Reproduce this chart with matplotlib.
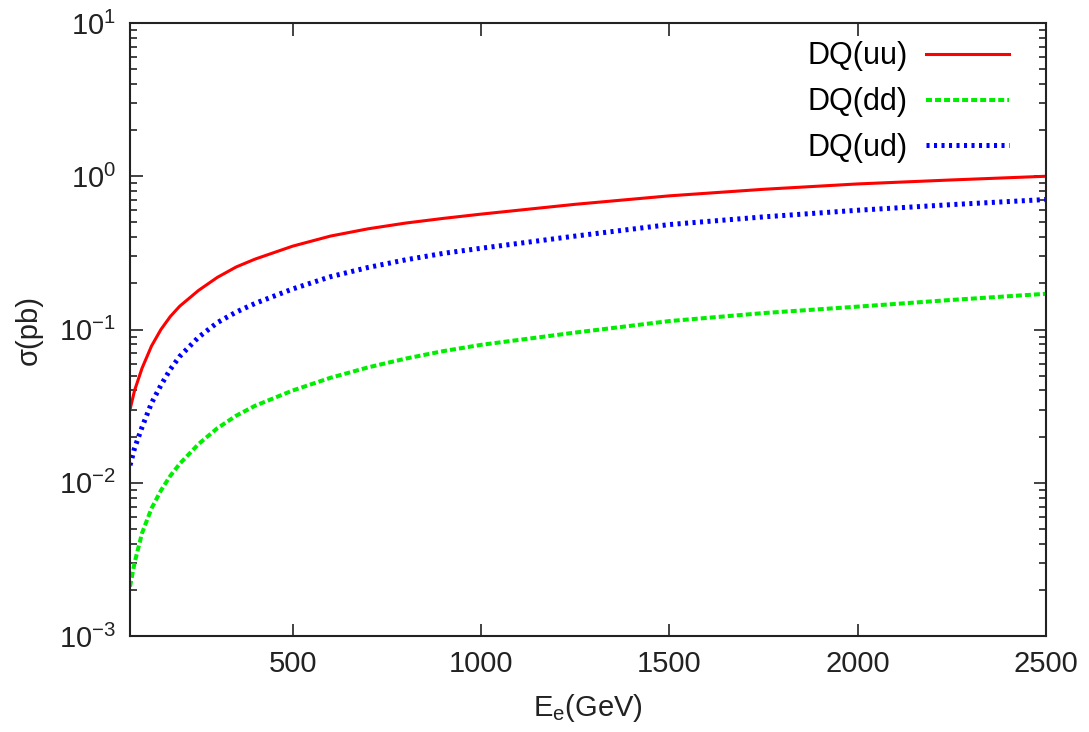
import math
import matplotlib
matplotlib.use("Agg")
import matplotlib.pyplot as plt
from matplotlib.ticker import FuncFormatter

plt.rcParams["font.family"] = ["Liberation Sans", "DejaVu Sans"]
plt.rcParams["mathtext.fontset"] = "custom"
plt.rcParams["mathtext.rm"] = "Liberation Sans"
plt.rcParams["mathtext.it"] = "Liberation Sans"
plt.rcParams["lines.scale_dashes"] = False

energy = [68, 80, 100, 125, 150, 175, 200, 250, 300, 350, 400, 500, 600, 700, 800,
          900, 1000, 1250, 1500, 1750, 2000, 2250, 2500]
sigma_uu = [0.030, 0.040, 0.056, 0.078, 0.100, 0.1216, 0.142, 0.180, 0.219, 0.256,
            0.288, 0.350, 0.407, 0.454, 0.495, 0.531, 0.566, 0.656, 0.745, 0.822,
            0.891, 0.946, 1.000]
sigma_dd = [0.0021, 0.0030, 0.0047, 0.0068, 0.0089, 0.0111, 0.0133, 0.0179, 0.0227,
            0.0274, 0.0318, 0.0400, 0.0484, 0.0566, 0.0646, 0.0723, 0.0794, 0.0955,
            0.1135, 0.1280, 0.1410, 0.1560, 0.1710]
sigma_ud = [0.0130, 0.0168, 0.0231, 0.0331, 0.0433, 0.0550, 0.0668, 0.0891, 0.111,
            0.130, 0.148, 0.184, 0.221, 0.254, 0.285, 0.314, 0.339, 0.407, 0.484,
            0.543, 0.600, 0.653, 0.705]


def log_label(v, pos):
    exp = int(round(math.log10(v)))
    return r"10$^{\mathregular{%s}}$" % ("-%d" % -exp if exp < 0 else "%d" % exp)


fig = plt.figure(figsize=(10.89, 7.32), dpi=100)
ax = fig.add_axes([0.1194, 0.1311, 0.8411, 0.8375])

ax.plot(energy, sigma_uu, color="#ff0000", lw=2.2, label="DQ(uu)")
ax.plot(energy, sigma_dd, color="#00ee00", lw=2.9, dashes=(4.3, 2.2),
        dash_capstyle="butt", label="DQ(dd)")
ax.plot(energy, sigma_ud, color="#0000ff", lw=3.6, dashes=(2.2, 3.2),
        dash_capstyle="butt", label="DQ(ud)")

ax.set_yscale("log")
ax.set_xlim(68, 2500)
ax.set_ylim(1e-3, 1e1)
ax.set_xticks([500, 1000, 1500, 2000, 2500])
ax.yaxis.set_major_formatter(FuncFormatter(log_label))

ax.tick_params(which="both", direction="in", top=True, right=True,
               labelsize=21, colors="#222222", pad=10)
ax.tick_params(which="major", length=9, width=1.2)
ax.tick_params(which="minor", length=5, width=1.2)
for s in ax.spines.values():
    s.set_linewidth(1.5)
    s.set_color("#222222")

ax.set_xlabel(r"E$_\mathregular{e}$(GeV)", fontsize=21, color="#222222", labelpad=10)
ax.set_ylabel("σ(pb)", fontsize=21, color="#222222", labelpad=12)

ax.legend(loc="upper right", frameon=False, markerfirst=False, fontsize=22,
          handlelength=2.72, handletextpad=0.6, labelspacing=0.52,
          borderaxespad=0.2, bbox_to_anchor=(0.98, 1.0))

fig.savefig("out.png", dpi=100)
